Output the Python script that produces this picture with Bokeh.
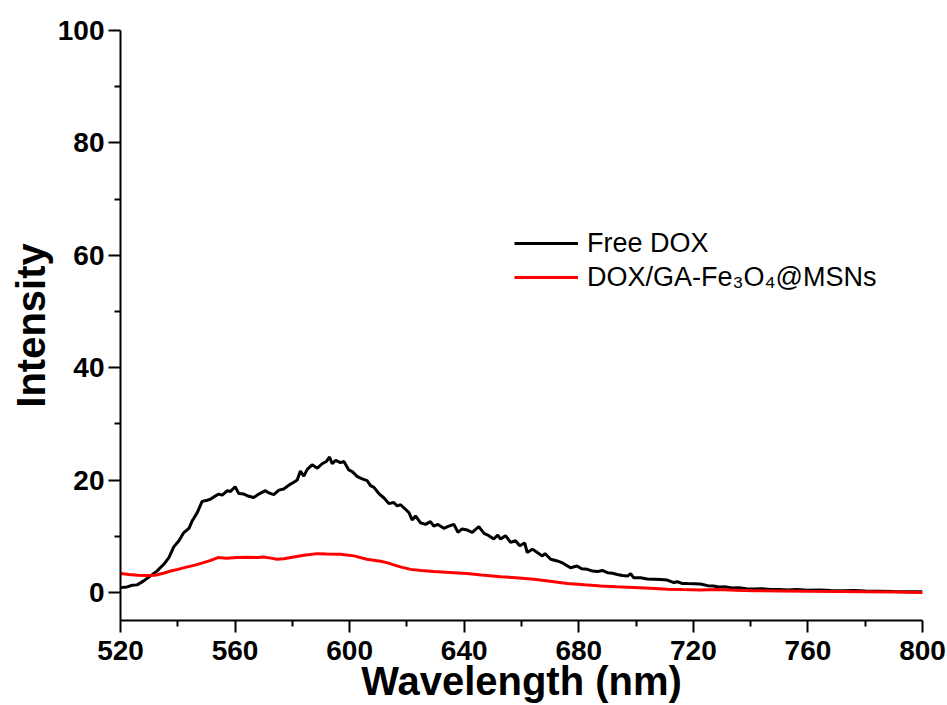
from bokeh.plotting import figure
from bokeh.models import Range1d, Legend, LegendItem, FixedTicker
from bokeh.embed import file_html
from bokeh.resources import INLINE

# ---------------- data ----------------
wl_free = [520, 522.3, 524.1, 525.8, 528.1, 530.5, 532.8, 535.1, 536.9, 538.6,
           540.4, 542.1, 543.9, 545.0, 546.8, 548.5, 550.3, 551.4, 552.6, 554.3,
           555.5, 557.3, 558.4, 560.0, 561.3, 563.1, 564.8, 566.5, 568.3, 570.6,
           571.8, 573.5, 575.3, 577.0, 578.8, 580.5, 581.7, 582.8, 584.0, 585.2,
           586.9, 588.7, 590.4, 591.9, 593.0, 593.9, 595.1, 596.8, 598.0, 599.7,
           600.9, 602.7, 604.4, 606.1, 607.3, 608.5, 610.2, 612.0, 613.7, 615.4,
           616.6, 617.8, 619.5, 620.7, 621.8, 623.0, 624.7, 626.5, 628.2, 629.4,
           630.8, 632.9, 634.6, 636.4, 637.8, 639.3, 641.1, 642.8, 645.1, 646.9,
           648.6, 650.3, 651.7, 652.7, 654.4, 656.2, 657.9, 659.4, 661.1, 662.0,
           663.8, 665.5, 667.3, 668.2, 670.2, 672.5, 674.5, 677.1, 679.4, 681.0,
           683.0, 684.8, 686.5, 688.2, 690.0, 691.8, 693.4, 695.2, 697.0, 698.1,
           699.2, 701.6, 703.9, 706.2, 708.5, 710.9, 713.2, 714.4, 716.0, 717.9,
           720.2, 722.5, 725.0, 727.0, 729.0, 731.0, 733.5, 736.0, 738.5, 741.0,
           744.0, 747.0, 750.0, 753.0, 756.0, 760.0, 764.0, 768.0, 772.0, 776.0,
           780.0, 785.0, 790.0, 795.0, 800.0]
int_free = [0.85, 0.98, 1.28, 1.34, 2.05, 2.94, 3.83, 5.0, 6.2, 8.1,
            9.2, 10.65, 11.4, 12.7, 14.2, 16.2, 16.4, 16.6, 17.0, 17.5,
            17.3, 18.1, 17.95, 18.8, 17.6, 17.5, 17.1, 16.9, 17.5, 18.1,
            17.7, 17.4, 18.2, 18.4, 19.1, 19.6, 20.0, 21.6, 20.7, 21.9,
            22.7, 22.1, 22.9, 23.3, 24.1, 22.9, 23.5, 23.1, 23.3, 21.8,
            21.5, 20.6, 20.2, 19.9, 19.0, 18.7, 17.6, 16.8, 15.8, 16.0,
            15.4, 15.6, 14.8, 14.2, 12.9, 13.6, 12.4, 12.1, 12.6, 11.8,
            12.1, 11.4, 11.8, 12.1, 10.7, 11.3, 11.1, 10.7, 11.7, 10.5,
            10.1, 9.5, 10.2, 9.5, 10.1, 8.9, 9.2, 8.3, 8.8, 7.1,
            7.7, 7.1, 6.5, 6.9, 5.9, 5.6, 5.2, 4.4, 4.7, 4.2,
            4.1, 3.8, 3.7, 3.9, 3.5, 3.4, 3.2, 3.0, 2.9, 3.35,
            2.6, 2.6, 2.4, 2.35, 2.3, 2.2, 1.75, 1.9, 1.6, 1.57,
            1.55, 1.5, 1.2, 1.15, 0.95, 1.0, 0.8, 0.85, 0.65, 0.6,
            0.65, 0.5, 0.5, 0.45, 0.5, 0.4, 0.42, 0.35, 0.3, 0.32,
            0.25, 0.2, 0.15, 0.12, 0.1]

wl_ga = [520, 523, 526, 529, 532, 535, 537.5, 540, 543, 546,
         549, 551.5, 554, 557, 560.7, 564, 568, 570, 572.5, 574.7,
         577, 580.5, 584, 588.7, 592, 596.8, 601.5, 606, 610.8, 613,
         615.4, 618, 621.3, 625, 629.4, 635, 641, 646, 652.7, 658,
         664.3, 670, 676, 682, 687.6, 693, 699.2, 705, 710.9, 716,
         722.5, 728, 735, 741, 750, 760, 770, 780, 790, 800]
int_ga = [3.35, 3.2, 3.06, 3.0, 3.06, 3.4, 3.8, 4.1, 4.5, 4.85,
          5.3, 5.7, 6.2, 6.1, 6.2, 6.25, 6.2, 6.3, 6.1, 5.9,
          6.0, 6.3, 6.6, 6.9, 6.85, 6.8, 6.5, 5.9, 5.55, 5.3,
          4.9, 4.5, 4.1, 3.9, 3.7, 3.55, 3.35, 3.1, 2.8, 2.6,
          2.35, 2.0, 1.6, 1.35, 1.15, 1.0, 0.86, 0.72, 0.57, 0.5,
          0.42, 0.5, 0.4, 0.3, 0.27, 0.2, 0.15, 0.1, 0.05, 0.0]

x_ticks = [520, 560, 600, 640, 680, 720, 760, 800]
y_ticks = [0, 20, 40, 60, 80, 100]
label_free = "Free DOX"
label_ga = "DOX/GA-Fe\u2083O\u2084@MSNs"

# ---------------- figure ----------------
p = figure(width=947, height=705, output_backend="svg", toolbar_location=None,
           x_range=Range1d(520, 800), y_range=Range1d(-5, 100),
           min_border_left=120, min_border_right=25,
           min_border_top=30, min_border_bottom=85)
p.outline_line_color = None
p.grid.visible = False
p.background_fill_color = "white"
p.border_fill_color = "white"

r1 = p.line(wl_free, int_free, line_color="black", line_width=3)
r2 = p.line(wl_ga, int_ga, line_color="#ff0000", line_width=3)

x_minor = [(a + b) / 2 for a, b in zip(x_ticks[:-1], x_ticks[1:])]
y_minor = [(a + b) / 2 for a, b in zip(y_ticks[:-1], y_ticks[1:])]
p.xaxis.ticker = FixedTicker(ticks=x_ticks, minor_ticks=x_minor)
p.yaxis.ticker = FixedTicker(ticks=y_ticks, minor_ticks=y_minor)

for ax in (p.xaxis, p.yaxis):
    ax.axis_line_width = 2
    ax.axis_line_color = "black"
    ax.major_tick_line_width = 2
    ax.minor_tick_line_width = 2
    ax.major_tick_line_color = "black"
    ax.minor_tick_line_color = "black"
    ax.major_tick_out = 12
    ax.major_tick_in = 0
    ax.minor_tick_out = 6
    ax.minor_tick_in = 0
    ax.major_label_text_font = "Liberation Sans"
    ax.major_label_text_font_style = "bold"
    ax.major_label_text_font_size = "28px"
    ax.major_label_text_color = "black"
    ax.axis_label_text_font = "Liberation Sans"
    ax.axis_label_text_font_style = "bold"
    ax.axis_label_text_font_size = "40px"
    ax.axis_label_text_color = "black"

p.xaxis.axis_label = "Wavelength (nm)"
p.yaxis.axis_label = "Intensity"
p.xaxis.major_label_standoff = 8
p.xaxis.axis_label_standoff = -4
p.yaxis.major_label_standoff = 4
p.yaxis.axis_label_standoff = 2

legend = Legend(items=[LegendItem(label=label_free, renderers=[r1]),
                       LegendItem(label=label_ga, renderers=[r2])],
                location=(394, 326))
legend.border_line_color = None
legend.background_fill_alpha = 0
legend.label_text_font = "Liberation Sans"
legend.label_text_font_size = "27px"
legend.label_text_color = "black"
legend.glyph_width = 64
legend.glyph_height = 34
legend.label_height = 34
legend.label_standoff = 9
legend.spacing = 0
legend.padding = 0
legend.margin = 0
p.add_layout(legend)

open("out.html", "w").write(file_html(p, INLINE))
